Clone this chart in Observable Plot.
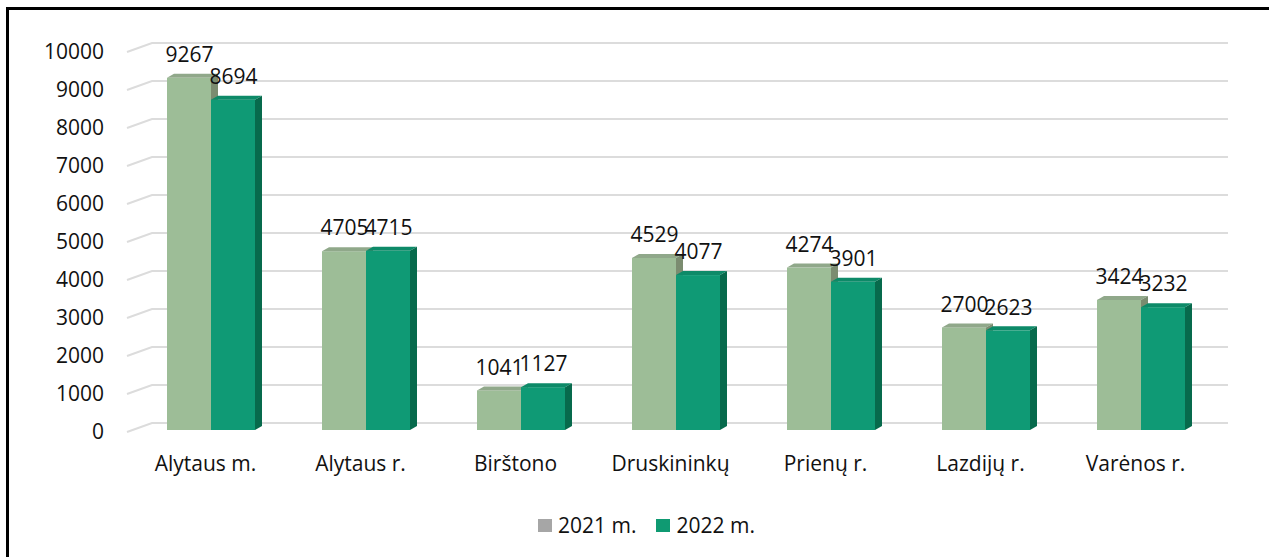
<!DOCTYPE html>
<html>
<head>
<meta charset="utf-8">
<script src="https://cdn.jsdelivr.net/npm/d3@7"></script>
<script src="https://cdn.jsdelivr.net/npm/@observablehq/plot@0.6"></script>
<style>
  body { margin: 0; background: #fff; font-family: "Open Sans", sans-serif; }
  #frame { position: absolute; left: 6px; top: 7px; width: 1400px; height: 700px;
           border-top: 3px solid #000; border-left: 3px solid #000; }
  #chart { position: absolute; left: 0; top: 0; }
  #legend { position: absolute; top: 511px; left: 538px; display: flex; align-items: center;
            font-size: 21px; color: #111; font-family: "Open Sans", sans-serif; }
  .sw { width: 14px; height: 13px; display: inline-block; margin-right: 6px; }
  .item { display: flex; align-items: center; margin-right: 20px; }
</style>
</head>
<body>
<div id="frame"></div>
<div id="chart"></div>
<div id="legend"></div>
<script>
const categories = ["Alytaus m.", "Alytaus r.", "Birštono", "Druskininkų", "Prienų r.", "Lazdijų r.", "Varėnos r."];
const values2021 = [9267, 4705, 1041, 4529, 4274, 2700, 3424];
const values2022 = [8694, 4715, 1127, 4077, 3901, 2623, 3232];
const seriesNames = ["2021 m.", "2022 m."];
const yTicks = [0, 1000, 2000, 3000, 4000, 5000, 6000, 7000, 8000, 9000, 10000];

const data2021 = categories.map((c, i) => ({cat: c, value: values2021[i]}));
const data2022 = categories.map((c, i) => ({cat: c, value: values2022[i]}));

const colors = {
  front21: "#9dbd97", top21: "#90a88a", side21: "#7b8c70",
  front22: "#0f9a75", top22: "#0d8a68", side22: "#076a4c",
  legend21: "#a6a6a6", legend22: "#0f9a72"
};

const depthX = 7, depthY = 4;
const NS = "http://www.w3.org/2000/svg";

function bar3d(topColor, sideColor) {
  return function(index, scales, values, dimensions, context, next) {
    const g = next(index, scales, values, dimensions, context);
    try {
      const rects = Array.from(g.querySelectorAll("rect"));
      for (const r of rects) {
        const x = +r.getAttribute("x"), y = +r.getAttribute("y");
        const w = +r.getAttribute("width"), h = +r.getAttribute("height");
        const top = document.createElementNS(NS, "path");
        top.setAttribute("d", `M${x},${y}L${x + w},${y}L${x + w + depthX},${y - depthY}L${x + depthX},${y - depthY}Z`);
        top.setAttribute("fill", topColor);
        const side = document.createElementNS(NS, "path");
        side.setAttribute("d", `M${x + w},${y}L${x + w + depthX},${y - depthY}L${x + w + depthX},${y + h - depthY}L${x + w},${y + h}Z`);
        side.setAttribute("fill", sideColor);
        r.parentNode.appendChild(top);
        r.parentNode.appendChild(side);
      }
    } catch (e) {}
    return g;
  };
}

function gridRender(index, scales, values, dimensions, context, next) {
  try {
    const g = document.createElementNS(NS, "g");
    const left = dimensions.marginLeft;
    const right = dimensions.width - dimensions.marginRight;
    for (const i of index) {
      const y = values.y[i];
      const p = document.createElementNS(NS, "path");
      p.setAttribute("d", `M${left - 6.5},${y + 2}L${left + 18.5},${y - 7}L${right + 9.5},${y - 7}`);
      p.setAttribute("fill", "none");
      p.setAttribute("stroke", "#dcdcdc");
      p.setAttribute("stroke-width", 2);
      g.appendChild(p);
    }
    return g;
  } catch (e) {
    return next(index, scales, values, dimensions, context);
  }
}

const chart = Plot.plot({
  width: 1269,
  height: 490,
  marginLeft: 133.5,
  marginRight: 50.5,
  marginTop: 50,
  marginBottom: 60,
  style: {fontFamily: "Open Sans", fontSize: "21px", color: "#111", background: "transparent"},
  x: {domain: categories, paddingInner: 0.432, paddingOuter: 0.216, label: null},
  y: {domain: [0, 10000], label: null},
  marks: [
    Plot.ruleY(yTicks, {stroke: "#dcdcdc", strokeWidth: 2, insetLeft: 18.5, insetRight: -9.5, dy: -7, render: gridRender}),
    Plot.barY(data2021, {x: "cat", y: "value", fill: colors.front21, insetRight: 44, render: bar3d(colors.top21, colors.side21)}),
    Plot.barY(data2022, {x: "cat", y: "value", fill: colors.front22, insetLeft: 44, render: bar3d(colors.top22, colors.side22)}),
    Plot.text(data2021, {x: "cat", y: "value", text: d => String(d.value), dx: -22, dy: -23, fontSize: 21, fill: "#111"}),
    Plot.text(data2022, {x: "cat", y: "value", text: d => String(d.value), dx: 22, dy: -23, fontSize: 21, fill: "#111"}),
    Plot.axisY(yTicks, {tickSize: 0, tickPadding: 30, dy: 2, fontSize: 21, fill: "#111", tickFormat: d => String(d), label: null}),
    Plot.axisX({tickSize: 0, tickPadding: 26, dx: -6, fontSize: 21, fill: "#111", label: null})
  ]
});
document.getElementById("chart").appendChild(chart);

const legend = document.getElementById("legend");
seriesNames.forEach((name, i) => {
  const item = document.createElement("span");
  item.className = "item";
  const sw = document.createElement("span");
  sw.className = "sw";
  sw.style.background = i === 0 ? colors.legend21 : colors.legend22;
  item.appendChild(sw);
  item.appendChild(document.createTextNode(name));
  legend.appendChild(item);
});
</script>
</body>
</html>
